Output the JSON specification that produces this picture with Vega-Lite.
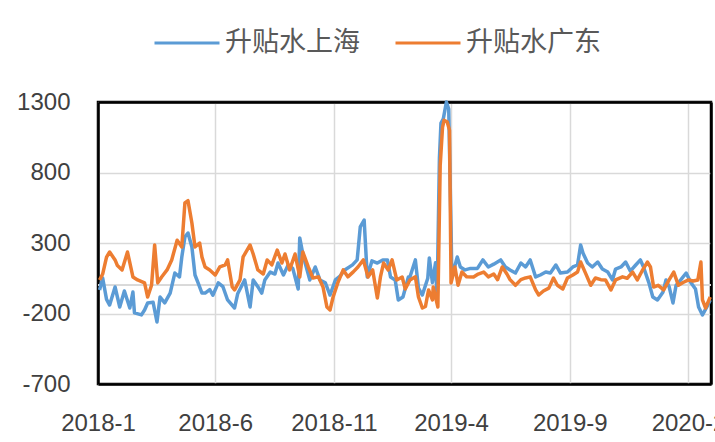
{
  "$schema": "https://vega.github.io/schema/vega-lite/v6.json",
  "width": 613,
  "height": 282,
  "autosize": {"type": "none"},
  "padding": {"left": 98, "top": 102, "right": 4, "bottom": 58},
  "background": "white",
  "config": {
    "view": {"stroke": "#000000", "strokeWidth": 2.5},
    "axis": {"labelFont": "Liberation Sans", "labelFontSize": 24, "labelColor": "#404040", "domain": true, "domainColor": "#000000", "domainWidth": 2.5, "ticks": false, "gridColor": "#D9D9D9", "gridWidth": 1.5}
  },
  "resolve": {"axis": {"x": "independent", "y": "independent"}},
  "data": {
    "format": {"parse": {"d": "date:'%Y-%m-%d'"}},
    "values": [
      {"d":"2018-01-03","s":"升贴水上海","v":-33},
      {"d":"2018-01-07","s":"升贴水上海","v":52},
      {"d":"2018-01-12","s":"升贴水上海","v":-100},
      {"d":"2018-01-16","s":"升贴水上海","v":-140},
      {"d":"2018-01-23","s":"升贴水上海","v":-12},
      {"d":"2018-01-29","s":"升贴水上海","v":-154},
      {"d":"2018-02-04","s":"升贴水上海","v":-40},
      {"d":"2018-02-11","s":"升贴水上海","v":-161},
      {"d":"2018-02-15","s":"升贴水上海","v":-48},
      {"d":"2018-02-17","s":"升贴水上海","v":-196},
      {"d":"2018-02-26","s":"升贴水上海","v":-210},
      {"d":"2018-03-02","s":"升贴水上海","v":-175},
      {"d":"2018-03-06","s":"升贴水上海","v":-125},
      {"d":"2018-03-13","s":"升贴水上海","v":-120},
      {"d":"2018-03-18","s":"升贴水上海","v":-260},
      {"d":"2018-03-22","s":"升贴水上海","v":-83},
      {"d":"2018-03-28","s":"升贴水上海","v":-125},
      {"d":"2018-04-04","s":"升贴水上海","v":-55},
      {"d":"2018-04-10","s":"升贴水上海","v":87},
      {"d":"2018-04-16","s":"升贴水上海","v":59},
      {"d":"2018-04-19","s":"升贴水上海","v":201},
      {"d":"2018-04-23","s":"升贴水上海","v":343},
      {"d":"2018-04-27","s":"升贴水上海","v":371},
      {"d":"2018-05-02","s":"升贴水上海","v":272},
      {"d":"2018-05-06","s":"升贴水上海","v":73},
      {"d":"2018-05-10","s":"升贴水上海","v":17},
      {"d":"2018-05-15","s":"升贴水上海","v":-55},
      {"d":"2018-05-19","s":"升贴水上海","v":-55},
      {"d":"2018-05-25","s":"升贴水上海","v":-30},
      {"d":"2018-05-29","s":"升贴水上海","v":-70},
      {"d":"2018-06-05","s":"升贴水上海","v":17},
      {"d":"2018-06-11","s":"升贴水上海","v":-10},
      {"d":"2018-06-17","s":"升贴水上海","v":-104},
      {"d":"2018-06-26","s":"升贴水上海","v":-161},
      {"d":"2018-06-30","s":"升贴水上海","v":-60},
      {"d":"2018-07-09","s":"升贴水上海","v":38},
      {"d":"2018-07-16","s":"升贴水上海","v":-154},
      {"d":"2018-07-20","s":"升贴水上海","v":38},
      {"d":"2018-07-26","s":"升贴水上海","v":-10},
      {"d":"2018-07-31","s":"升贴水上海","v":-55},
      {"d":"2018-08-04","s":"升贴水上海","v":38},
      {"d":"2018-08-11","s":"升贴水上海","v":94},
      {"d":"2018-08-17","s":"升贴水上海","v":80},
      {"d":"2018-08-21","s":"升贴水上海","v":158},
      {"d":"2018-08-28","s":"升贴水上海","v":73},
      {"d":"2018-09-03","s":"升贴水上海","v":145},
      {"d":"2018-09-09","s":"升贴水上海","v":120},
      {"d":"2018-09-16","s":"升贴水上海","v":-26},
      {"d":"2018-09-18","s":"升贴水上海","v":336},
      {"d":"2018-09-22","s":"升贴水上海","v":222},
      {"d":"2018-09-25","s":"升贴水上海","v":158},
      {"d":"2018-10-01","s":"升贴水上海","v":38},
      {"d":"2018-10-08","s":"升贴水上海","v":130},
      {"d":"2018-10-14","s":"升贴水上海","v":38},
      {"d":"2018-10-21","s":"升贴水上海","v":17},
      {"d":"2018-10-27","s":"升贴水上海","v":-69},
      {"d":"2018-11-03","s":"升贴水上海","v":38},
      {"d":"2018-11-09","s":"升贴水上海","v":66},
      {"d":"2018-11-15","s":"升贴水上海","v":109},
      {"d":"2018-11-25","s":"升贴水上海","v":145},
      {"d":"2018-12-01","s":"升贴水上海","v":180},
      {"d":"2018-12-05","s":"升贴水上海","v":414},
      {"d":"2018-12-10","s":"升贴水上海","v":463},
      {"d":"2018-12-14","s":"升贴水上海","v":59},
      {"d":"2018-12-20","s":"升贴水上海","v":173},
      {"d":"2018-12-27","s":"升贴水上海","v":158},
      {"d":"2019-01-03","s":"升贴水上海","v":180},
      {"d":"2019-01-09","s":"升贴水上海","v":180},
      {"d":"2019-01-13","s":"升贴水上海","v":59},
      {"d":"2019-01-19","s":"升贴水上海","v":38},
      {"d":"2019-01-23","s":"升贴水上海","v":-104},
      {"d":"2019-01-29","s":"升贴水上海","v":-83},
      {"d":"2019-02-05","s":"升贴水上海","v":59},
      {"d":"2019-02-07","s":"升贴水上海","v":59},
      {"d":"2019-02-14","s":"升贴水上海","v":180},
      {"d":"2019-02-18","s":"升贴水上海","v":-20},
      {"d":"2019-02-23","s":"升贴水上海","v":-69},
      {"d":"2019-03-02","s":"升贴水上海","v":50},
      {"d":"2019-03-04","s":"升贴水上海","v":194},
      {"d":"2019-03-08","s":"升贴水上海","v":20},
      {"d":"2019-03-12","s":"升贴水上海","v":160},
      {"d":"2019-03-14","s":"升贴水上海","v":-100},
      {"d":"2019-03-17","s":"升贴水上海","v":900},
      {"d":"2019-03-19","s":"升贴水上海","v":1150},
      {"d":"2019-03-22","s":"升贴水上海","v":1180},
      {"d":"2019-03-26","s":"升贴水上海","v":1300},
      {"d":"2019-03-29","s":"升贴水上海","v":1250},
      {"d":"2019-04-01","s":"升贴水上海","v":400},
      {"d":"2019-04-02","s":"升贴水上海","v":59},
      {"d":"2019-04-09","s":"升贴水上海","v":201},
      {"d":"2019-04-13","s":"升贴水上海","v":130},
      {"d":"2019-04-19","s":"升贴水上海","v":109},
      {"d":"2019-04-26","s":"升贴水上海","v":120},
      {"d":"2019-05-05","s":"升贴水上海","v":120},
      {"d":"2019-05-12","s":"升贴水上海","v":180},
      {"d":"2019-05-19","s":"升贴水上海","v":130},
      {"d":"2019-05-26","s":"升贴水上海","v":150},
      {"d":"2019-06-04","s":"升贴水上海","v":180},
      {"d":"2019-06-10","s":"升贴水上海","v":130},
      {"d":"2019-06-16","s":"升贴水上海","v":109},
      {"d":"2019-06-23","s":"升贴水上海","v":87},
      {"d":"2019-06-30","s":"升贴水上海","v":158},
      {"d":"2019-07-06","s":"升贴水上海","v":130},
      {"d":"2019-07-12","s":"升贴水上海","v":180},
      {"d":"2019-07-19","s":"升贴水上海","v":59},
      {"d":"2019-07-25","s":"升贴水上海","v":73},
      {"d":"2019-08-01","s":"升贴水上海","v":94},
      {"d":"2019-08-07","s":"升贴水上海","v":87},
      {"d":"2019-08-14","s":"升贴水上海","v":144},
      {"d":"2019-08-20","s":"升贴水上海","v":87},
      {"d":"2019-08-29","s":"升贴水上海","v":94},
      {"d":"2019-09-05","s":"升贴水上海","v":130},
      {"d":"2019-09-11","s":"升贴水上海","v":144},
      {"d":"2019-09-15","s":"升贴水上海","v":286},
      {"d":"2019-09-18","s":"升贴水上海","v":229},
      {"d":"2019-09-24","s":"升贴水上海","v":158},
      {"d":"2019-09-30","s":"升贴水上海","v":130},
      {"d":"2019-10-07","s":"升贴水上海","v":165},
      {"d":"2019-10-13","s":"升贴水上海","v":115},
      {"d":"2019-10-20","s":"升贴水上海","v":94},
      {"d":"2019-10-26","s":"升贴水上海","v":38},
      {"d":"2019-10-30","s":"升贴水上海","v":115},
      {"d":"2019-11-06","s":"升贴水上海","v":130},
      {"d":"2019-11-12","s":"升贴水上海","v":165},
      {"d":"2019-11-18","s":"升贴水上海","v":101},
      {"d":"2019-11-25","s":"升贴水上海","v":144},
      {"d":"2019-12-01","s":"升贴水上海","v":180},
      {"d":"2019-12-05","s":"升贴水上海","v":130},
      {"d":"2019-12-12","s":"升贴水上海","v":17},
      {"d":"2019-12-17","s":"升贴水上海","v":-83},
      {"d":"2019-12-23","s":"升贴水上海","v":-104},
      {"d":"2019-12-30","s":"升贴水上海","v":-50},
      {"d":"2020-01-03","s":"升贴水上海","v":38},
      {"d":"2020-01-07","s":"升贴水上海","v":-10},
      {"d":"2020-01-12","s":"升贴水上海","v":-125},
      {"d":"2020-01-16","s":"升贴水上海","v":0},
      {"d":"2020-01-22","s":"升贴水上海","v":38},
      {"d":"2020-01-29","s":"升贴水上海","v":87},
      {"d":"2020-02-04","s":"升贴水上海","v":20},
      {"d":"2020-02-10","s":"升贴水上海","v":-26},
      {"d":"2020-02-14","s":"升贴水上海","v":-154},
      {"d":"2020-02-19","s":"升贴水上海","v":-210},
      {"d":"2020-02-25","s":"升贴水上海","v":-150},
      {"d":"2020-02-29","s":"升贴水上海","v":-104},
      {"d":"2018-01-03","s":"升贴水广东","v":38},
      {"d":"2018-01-07","s":"升贴水广东","v":80},
      {"d":"2018-01-12","s":"升贴水广东","v":200},
      {"d":"2018-01-16","s":"升贴水广东","v":236},
      {"d":"2018-01-23","s":"升贴水广东","v":180},
      {"d":"2018-01-26","s":"升贴水广东","v":140},
      {"d":"2018-02-01","s":"升贴水广东","v":109},
      {"d":"2018-02-08","s":"升贴水广东","v":236},
      {"d":"2018-02-15","s":"升贴水广东","v":59},
      {"d":"2018-02-21","s":"升贴水广东","v":38},
      {"d":"2018-03-02","s":"升贴水广东","v":17},
      {"d":"2018-03-06","s":"升贴水广东","v":-83},
      {"d":"2018-03-11","s":"升贴水广东","v":0},
      {"d":"2018-03-15","s":"升贴水广东","v":286},
      {"d":"2018-03-19","s":"升贴水广东","v":17},
      {"d":"2018-03-24","s":"升贴水广东","v":59},
      {"d":"2018-03-31","s":"升贴水广东","v":109},
      {"d":"2018-04-06","s":"升贴水广东","v":180},
      {"d":"2018-04-13","s":"升贴水广东","v":320},
      {"d":"2018-04-19","s":"升贴水广东","v":272},
      {"d":"2018-04-23","s":"升贴水广东","v":584},
      {"d":"2018-04-27","s":"升贴水广东","v":600},
      {"d":"2018-05-02","s":"升贴水广东","v":442},
      {"d":"2018-05-06","s":"升贴水广东","v":272},
      {"d":"2018-05-12","s":"升贴水广东","v":300},
      {"d":"2018-05-15","s":"升贴水广东","v":200},
      {"d":"2018-05-19","s":"升贴水广东","v":130},
      {"d":"2018-05-25","s":"升贴水广东","v":109},
      {"d":"2018-06-01","s":"升贴水广东","v":73},
      {"d":"2018-06-07","s":"升贴水广东","v":130},
      {"d":"2018-06-14","s":"升贴水广东","v":145},
      {"d":"2018-06-17","s":"升贴水广东","v":180},
      {"d":"2018-06-23","s":"升贴水广东","v":-12},
      {"d":"2018-06-26","s":"升贴水广东","v":-33},
      {"d":"2018-07-03","s":"升贴水广东","v":38},
      {"d":"2018-07-07","s":"升贴水广东","v":201},
      {"d":"2018-07-16","s":"升贴水广东","v":286},
      {"d":"2018-07-20","s":"升贴水广东","v":222},
      {"d":"2018-07-26","s":"升贴水广东","v":109},
      {"d":"2018-08-02","s":"升贴水广东","v":80},
      {"d":"2018-08-07","s":"升贴水广东","v":180},
      {"d":"2018-08-13","s":"升贴水广东","v":145},
      {"d":"2018-08-20","s":"升贴水广东","v":250},
      {"d":"2018-08-26","s":"升贴水广东","v":158},
      {"d":"2018-08-30","s":"升贴水广东","v":222},
      {"d":"2018-09-05","s":"升贴水广东","v":109},
      {"d":"2018-09-12","s":"升贴水广东","v":222},
      {"d":"2018-09-18","s":"升贴水广东","v":59},
      {"d":"2018-09-22","s":"升贴水广东","v":236},
      {"d":"2018-09-29","s":"升贴水广东","v":130},
      {"d":"2018-10-05","s":"升贴水广东","v":52},
      {"d":"2018-10-12","s":"升贴水广东","v":60},
      {"d":"2018-10-18","s":"升贴水广东","v":-12},
      {"d":"2018-10-23","s":"升贴水广东","v":-154},
      {"d":"2018-10-27","s":"升贴水广东","v":-175},
      {"d":"2018-10-31","s":"升贴水广东","v":-83},
      {"d":"2018-11-06","s":"升贴水广东","v":17},
      {"d":"2018-11-13","s":"升贴水广东","v":109},
      {"d":"2018-11-19","s":"升贴水广东","v":60},
      {"d":"2018-11-26","s":"升贴水广东","v":95},
      {"d":"2018-12-02","s":"升贴水广东","v":130},
      {"d":"2018-12-09","s":"升贴水广东","v":180},
      {"d":"2018-12-15","s":"升贴水广东","v":59},
      {"d":"2018-12-21","s":"升贴水广东","v":109},
      {"d":"2018-12-27","s":"升贴水广东","v":-90},
      {"d":"2018-12-31","s":"升贴水广东","v":59},
      {"d":"2019-01-04","s":"升贴水广东","v":158},
      {"d":"2019-01-10","s":"升贴水广东","v":109},
      {"d":"2019-01-15","s":"升贴水广东","v":180},
      {"d":"2019-01-21","s":"升贴水广东","v":38},
      {"d":"2019-01-28","s":"升贴水广东","v":59},
      {"d":"2019-02-01","s":"升贴水广东","v":-26},
      {"d":"2019-02-07","s":"升贴水广东","v":38},
      {"d":"2019-02-14","s":"升贴水广东","v":60},
      {"d":"2019-02-18","s":"升贴水广东","v":-83},
      {"d":"2019-02-23","s":"升贴水广东","v":-161},
      {"d":"2019-02-27","s":"升贴水广东","v":-150},
      {"d":"2019-03-03","s":"升贴水广东","v":-33},
      {"d":"2019-03-08","s":"升贴水广东","v":-104},
      {"d":"2019-03-09","s":"升贴水广东","v":-12},
      {"d":"2019-03-15","s":"升贴水广东","v":-154},
      {"d":"2019-03-18","s":"升贴水广东","v":850},
      {"d":"2019-03-21","s":"升贴水广东","v":1120},
      {"d":"2019-03-23","s":"升贴水广东","v":1170},
      {"d":"2019-03-27","s":"升贴水广东","v":1160},
      {"d":"2019-03-30","s":"升贴水广东","v":1100},
      {"d":"2019-04-01","s":"升贴水广东","v":17},
      {"d":"2019-04-06","s":"升贴水广东","v":130},
      {"d":"2019-04-10","s":"升贴水广东","v":0},
      {"d":"2019-04-15","s":"升贴水广东","v":94},
      {"d":"2019-04-21","s":"升贴水广东","v":60},
      {"d":"2019-04-30","s":"升贴水广东","v":59},
      {"d":"2019-05-06","s":"升贴水广东","v":80},
      {"d":"2019-05-13","s":"升贴水广东","v":94},
      {"d":"2019-05-19","s":"升贴水广东","v":60},
      {"d":"2019-05-26","s":"升贴水广东","v":80},
      {"d":"2019-05-31","s":"升贴水广东","v":40},
      {"d":"2019-06-06","s":"升贴水广东","v":130},
      {"d":"2019-06-12","s":"升贴水广东","v":80},
      {"d":"2019-06-16","s":"升贴水广东","v":40},
      {"d":"2019-06-23","s":"升贴水广东","v":0},
      {"d":"2019-06-30","s":"升贴水广东","v":40},
      {"d":"2019-07-06","s":"升贴水广东","v":52},
      {"d":"2019-07-12","s":"升贴水广东","v":60},
      {"d":"2019-07-19","s":"升贴水广东","v":-33},
      {"d":"2019-07-23","s":"升贴水广东","v":-69},
      {"d":"2019-07-29","s":"升贴水广东","v":-40},
      {"d":"2019-08-05","s":"升贴水广东","v":-20},
      {"d":"2019-08-11","s":"升贴水广东","v":52},
      {"d":"2019-08-16","s":"升贴水广东","v":0},
      {"d":"2019-08-23","s":"升贴水广东","v":-26},
      {"d":"2019-08-29","s":"升贴水广东","v":52},
      {"d":"2019-09-05","s":"升贴水广东","v":73},
      {"d":"2019-09-11","s":"升贴水广东","v":94},
      {"d":"2019-09-15","s":"升贴水广东","v":165},
      {"d":"2019-09-21","s":"升贴水广东","v":90},
      {"d":"2019-09-28","s":"升贴水广东","v":0},
      {"d":"2019-10-04","s":"升贴水广东","v":52},
      {"d":"2019-10-11","s":"升贴水广东","v":40},
      {"d":"2019-10-17","s":"升贴水广东","v":38},
      {"d":"2019-10-24","s":"升贴水广东","v":-33},
      {"d":"2019-10-30","s":"升贴水广东","v":38},
      {"d":"2019-11-08","s":"升贴水广东","v":60},
      {"d":"2019-11-14","s":"升贴水广东","v":50},
      {"d":"2019-11-21","s":"升贴水广东","v":94},
      {"d":"2019-11-27","s":"升贴水广东","v":38},
      {"d":"2019-12-03","s":"升贴水广东","v":100},
      {"d":"2019-12-10","s":"升贴水广东","v":165},
      {"d":"2019-12-14","s":"升贴水广东","v":130},
      {"d":"2019-12-18","s":"升贴水广东","v":-12},
      {"d":"2019-12-24","s":"升贴水广东","v":0},
      {"d":"2019-12-31","s":"升贴水广东","v":-33},
      {"d":"2020-01-07","s":"升贴水广东","v":38},
      {"d":"2020-01-13","s":"升贴水广东","v":94},
      {"d":"2020-01-19","s":"升贴水广东","v":0},
      {"d":"2020-01-25","s":"升贴水广东","v":20},
      {"d":"2020-02-01","s":"升贴水广东","v":38},
      {"d":"2020-02-07","s":"升贴水广东","v":30},
      {"d":"2020-02-13","s":"升贴水广东","v":38},
      {"d":"2020-02-17","s":"升贴水广东","v":165},
      {"d":"2020-02-19","s":"升贴水广东","v":-104},
      {"d":"2020-02-23","s":"升贴水广东","v":-161},
      {"d":"2020-02-29","s":"升贴水广东","v":-83}
    ]
  },
  "layer": [
    {
      "mark": {"type": "rule", "color": "#D9D9D9", "strokeWidth": 1.5},
      "encoding": {
        "y": {"datum": 0, "type": "quantitative", "axis": {"orient": "right", "labels": false, "grid": false, "title": null}}
      }
    },
    {
      "mark": {"type": "rule", "opacity": 0},
      "encoding": {
        "x": {"field": "d", "type": "temporal", "axis": {"orient": "top", "labels": false, "grid": false, "title": null}}
      }
    },
    {
      "mark": {"type": "line", "strokeWidth": 3.5, "strokeJoin": "round"},
      "encoding": {
        "x": {
          "field": "d",
          "type": "temporal",
          "scale": {"domain": [{"year": 2018, "month": 1, "date": 1}, {"year": 2020, "month": 3, "date": 1}]},
          "axis": {
            "title": null,
            "grid": true,
            "format": "%Y-%-m",
            "labelFlush": false,
            "labelOverlap": false,
            "labelAlign": "center",
            "labelPadding": 27,
            "values": [
              {"year": 2018, "month": 1, "date": 1},
              {"year": 2018, "month": 6, "date": 1},
              {"year": 2018, "month": 11, "date": 1},
              {"year": 2019, "month": 4, "date": 1},
              {"year": 2019, "month": 9, "date": 1},
              {"year": 2020, "month": 2, "date": 1}
            ]
          }
        },
        "y": {
          "field": "v",
          "type": "quantitative",
          "scale": {"domain": [-700, 1300], "nice": false},
          "axis": {"title": null, "grid": true, "values": [-700, -200, 300, 800, 1300], "labelExpr": "datum.value + ''", "labelPadding": 28}
        },
        "color": {
          "field": "s",
          "type": "nominal",
          "scale": {"domain": ["升贴水上海", "升贴水广东"], "range": ["#5B9BD5", "#ED7D31"]},
          "legend": {
            "title": null,
            "orient": "none",
            "legendX": 55,
            "legendY": -93,
            "direction": "horizontal",
            "padding": 0,
            "symbolType": "stroke",
            "symbolSize": 4225,
            "symbolStrokeWidth": 3,
            "labelFont": "Noto Sans CJK SC",
            "labelFontSize": 27,
            "labelColor": "#595959",
            "labelOffset": 4,
            "columnPadding": 29
          }
        }
      }
    }
  ]
}
